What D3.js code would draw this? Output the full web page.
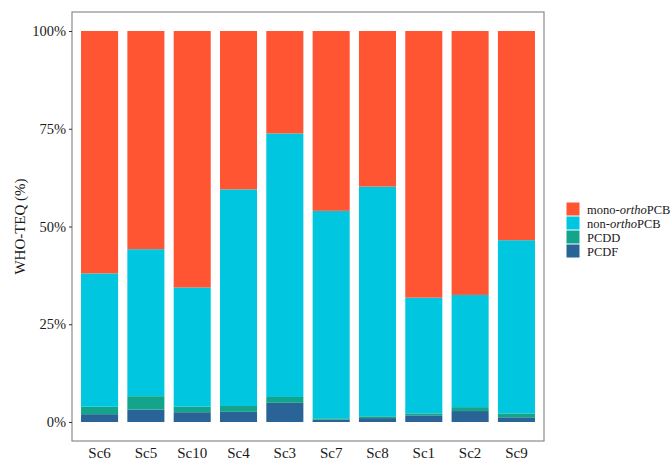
<!DOCTYPE html>
<html>
<head>
<meta charset="utf-8">
<script src="https://cdn.jsdelivr.net/npm/d3@7"></script>
<style>
  html, body { margin: 0; padding: 0; background: #fff; }
  svg { display: block; font-family: "Liberation Serif", "Times New Roman", serif; }
</style>
</head>
<body>
<svg id="chart" width="672" height="460"></svg>
<script>
// Sample sites, in plotting order
const sites = ["Sc6", "Sc5", "Sc10", "Sc4", "Sc3", "Sc7", "Sc8", "Sc1", "Sc2", "Sc9"];

// Share of total WHO-TEQ (%) per congener group
const pcdf      = [2.0, 3.2, 2.5, 2.6, 4.9, 0.6, 1.0, 1.7, 2.8, 1.2];
const pcdd      = [1.9, 3.4, 1.4, 1.5, 1.5, 0.35, 0.45, 0.5, 1.0, 1.0];
const nonOrtho  = [34.1, 37.6, 30.5, 55.4, 67.4, 53.05, 58.75, 29.6, 28.7, 44.3];
const monoOrtho = [62.0, 55.8, 65.6, 40.5, 26.2, 46.0, 39.8, 68.2, 67.5, 53.5];

const yTicks = [0, 0.25, 0.5, 0.75, 1];
const yTickLabels = ["0%", "25%", "50%", "75%", "100%"];

// Stack order bottom → top
const groups = ["PCDF", "PCDD", "nonOrtho", "monoOrtho"];
const colors = {
  PCDF: "#2a6496",
  PCDD: "#13a58c",
  nonOrtho: "#00c7df",
  monoOrtho: "#ff5533"
};

const rows = sites.map((s, i) => {
  const total = pcdf[i] + pcdd[i] + nonOrtho[i] + monoOrtho[i];
  return {
    site: s,
    PCDF: pcdf[i] / total,
    PCDD: pcdd[i] / total,
    nonOrtho: nonOrtho[i] / total,
    monoOrtho: monoOrtho[i] / total
  };
});

const svg = d3.select("#chart");
const panel = { left: 72, right: 544, top: 12, bottom: 441 };

const x = d3.scaleBand()
  .domain(sites)
  .range([panel.left, panel.right])
  .paddingInner(0.2)
  .paddingOuter(0.195);

const y = d3.scaleLinear().domain([0, 1]).range([422, 31]);

const series = d3.stack().keys(groups)(rows);

svg.append("g")
  .selectAll("g")
  .data(series)
  .join("g")
  .attr("fill", d => colors[d.key])
  .selectAll("rect")
  .data(d => d)
  .join("rect")
  .attr("x", d => x(d.data.site))
  .attr("width", x.bandwidth())
  .attr("y", d => y(d[1]))
  .attr("height", d => y(d[0]) - y(d[1]));

// Panel border
svg.append("rect")
  .attr("x", panel.left)
  .attr("y", panel.top)
  .attr("width", panel.right - panel.left)
  .attr("height", panel.bottom - panel.top)
  .attr("fill", "none")
  .attr("stroke", "#808080")
  .attr("stroke-width", 1.1);

// Y axis
const yAxis = svg.append("g")
  .attr("transform", `translate(${panel.left},0)`)
  .call(d3.axisLeft(y).tickValues(yTicks).tickFormat((d, i) => yTickLabels[i]).tickSize(3).tickPadding(3));
yAxis.select(".domain").remove();
yAxis.selectAll(".tick line").attr("stroke", "#333");
yAxis.selectAll(".tick text")
  .attr("fill", "#1a1a1a")
  .style("font-size", "14.5px")
  .style("font-family", "'Liberation Serif', serif");

// X axis labels
const xAxis = svg.append("g")
  .attr("transform", `translate(0,${panel.bottom})`)
  .call(d3.axisBottom(x).tickSize(0).tickPadding(6));
xAxis.select(".domain").remove();
xAxis.selectAll(".tick text")
  .attr("fill", "#1a1a1a")
  .style("font-size", "15px")
  .style("font-family", "'Liberation Serif', serif");

// Y axis title
svg.append("text")
  .attr("transform", `translate(25,${(panel.top + panel.bottom) / 2}) rotate(-90)`)
  .attr("text-anchor", "middle")
  .attr("fill", "#1a1a1a")
  .style("font-size", "15px")
  .text("WHO-TEQ (%)");

// Legend (top → bottom mirrors stack top → bottom)
const legendItems = [
  { key: "monoOrtho", parts: [["mono-", false], ["ortho", true], ["PCB", false]] },
  { key: "nonOrtho", parts: [["non-", false], ["ortho", true], ["PCB", false]] },
  { key: "PCDD", parts: [["PCDD", false]] },
  { key: "PCDF", parts: [["PCDF", false]] }
];
const legend = svg.append("g").attr("transform", "translate(566,202)");
const keyH = 14;
const li = legend.selectAll("g")
  .data(legendItems)
  .join("g")
  .attr("transform", (d, i) => `translate(0,${i * keyH})`);
li.append("rect")
  .attr("x", 0.5).attr("y", 0.5)
  .attr("width", 13).attr("height", 13)
  .attr("fill", d => colors[d.key]);
const lt = li.append("text")
  .attr("x", 21)
  .attr("y", 11.5)
  .attr("fill", "#1a1a1a")
  .style("font-size", "12.5px");
lt.selectAll("tspan")
  .data(d => d.parts)
  .join("tspan")
  .style("font-style", d => d[1] ? "italic" : "normal")
  .text(d => d[0]);
</script>
</body>
</html>
